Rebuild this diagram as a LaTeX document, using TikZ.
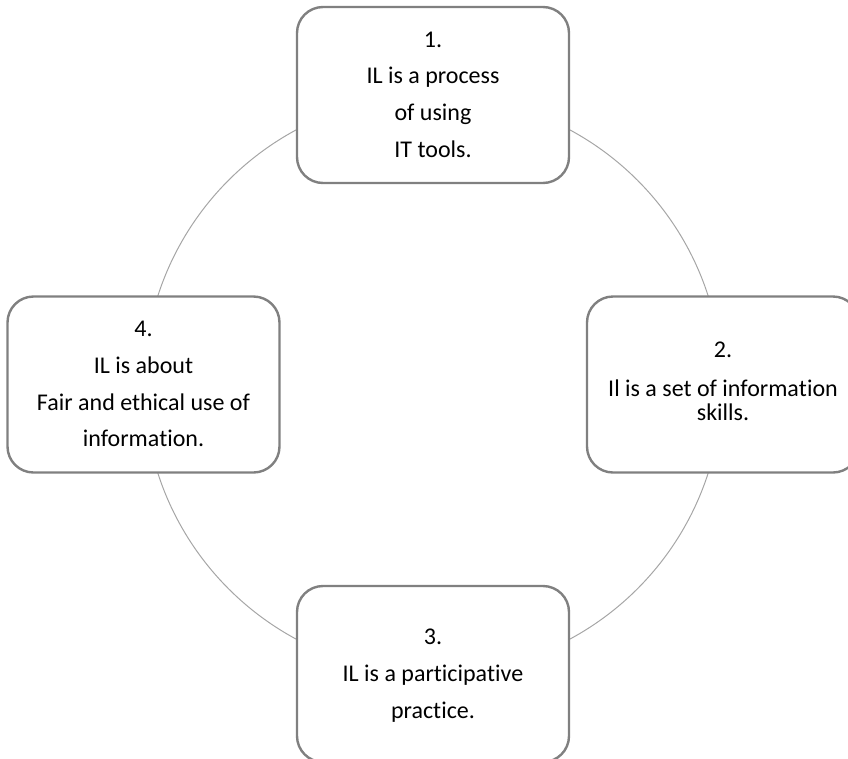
\documentclass[tikz,border=0pt]{standalone}
\usepackage{fontspec}
\setmainfont{Carlito}[Ligatures={NoCommon,NoRequired,NoContextual}]
\newcommand{\stack}[1]{\setlength{\tabcolsep}{0pt}\begin{tabular}{c}#1\end{tabular}}
\begin{document}
\begin{tikzpicture}[x=1pt,y=-1pt,
  ringline/.style={draw=ringgray,line width=1pt},
  ilbox/.style={draw=boxgray,line width=2.4pt,fill=white,rounded corners=26pt,
    minimum width=272pt,minimum height=176pt,inner sep=0pt,
    font=\fontsize{24}{36.7}\selectfont},
  ilboxtight/.style={ilbox,font=\fontsize{24}{24}\selectfont}]
\definecolor{boxgray}{HTML}{808080}
\definecolor{ringgray}{HTML}{A6A6A6}
\useasboundingbox (0,0) rectangle (848,758);
\clip (0,0) rectangle (848,758);
% ring that links the four statements
\node[circle,ringline,minimum size=578pt,inner sep=0pt] (ring) at (433,384.5) {};
% the four statements about information literacy
\node[ilbox] (s1) at (433,95) {\stack{1.\\IL is a process\\of using\\IT tools.}};
\node[ilboxtight] (s2) at (723,384.5) {\stack{2.\\[15pt]Il is a set of informa\kern0pt tion\\skills.}};
\node[ilbox] (s3) at (433,674) {\stack{3.\\IL is a participa\kern0pt tive\\practice.}};
\node[ilbox] (s4) at (143.5,384.5) {\stack{4.\\IL is about\\Fair and ethical use of\\informa\kern0pt tion.}};
\end{tikzpicture}
\end{document}
